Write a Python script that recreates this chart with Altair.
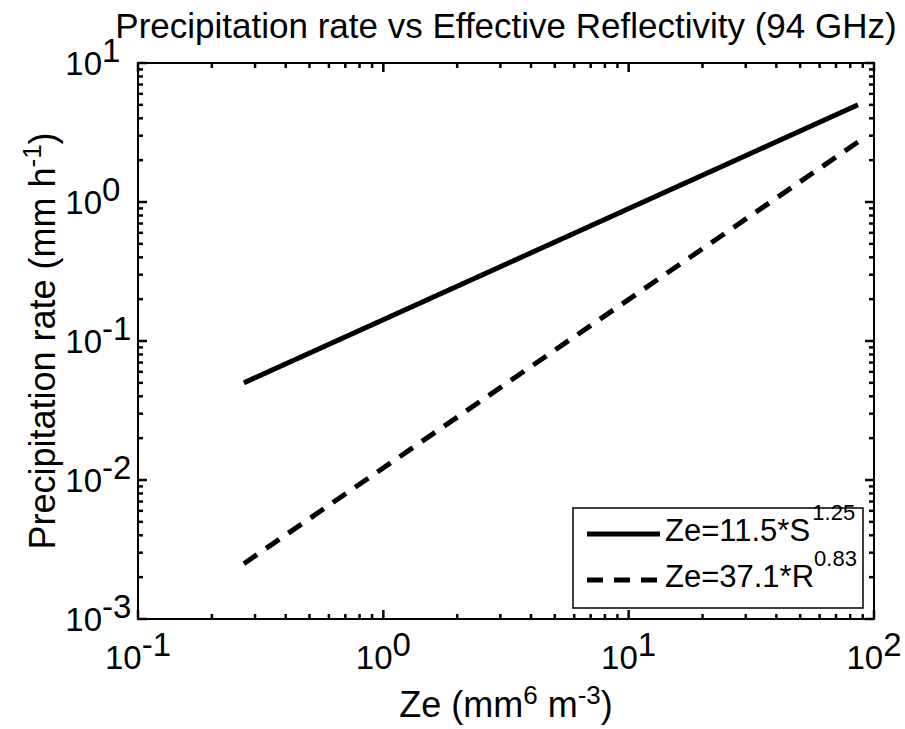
import altair as alt
import pandas as pd

# ---------------- data ----------------
ze_vals = [0.27, 86.0]                 # Ze (mm^6 m^-3) end points of both curves
snow_vals = [0.05, 5.0]                # S from Ze=11.5*S^1.25
rain_vals = [0.0025, 2.7]              # R from Ze=37.1*R^0.83
series_names = ["Ze=11.5*S^1.25", "Ze=37.1*R^0.83"]
legend_main = ["Ze=11.5*S", "Ze=37.1*R"]
legend_sup = ["1.25", "0.83"]

x_decades = [0.1, 1, 10, 100]
x_exps = ["-1", "0", "1", "2"]
y_decades = [0.001, 0.01, 0.1, 1, 10]
y_exps = ["-3", "-2", "-1", "0", "1"]
tick_base = "10"

title_text = "Precipitation rate vs Effective Reflectivity (94 GHz)"
xlabel_parts = ["Ze (mm", "6", " m", "-3", ")"]
ylabel_parts = ["Precipitation rate (mm h", "-1", ")"]

# ---------------- layout / style ----------------
FONT = "Liberation Sans"
W, H = 736, 556
PAD = {"left": 138, "top": 63, "right": 31, "bottom": 110}
TICK_FS = 33
LAB_FS = 36
LAB_SUP_FS = 26
TITLE_FS = 35
LEG_FS = 31
LEG_SUP_FS = 22

ARIAL = {' ': 278, '(': 333, ')': 333, '*': 389, '-': 333, '.': 278, '=': 584,
         'Z': 611, 'e': 556, 'm': 833, 'h': 556, 'S': 667, 'R': 722, 'P': 667,
         'r': 333, 'c': 500, 'i': 222, 'p': 556, 't': 278, 'a': 556, 'o': 556,
         'n': 556}
for d in "0123456789":
    ARIAL[d] = 556


def tw(s, fs):
    return sum(ARIAL.get(c, 556) for c in s) / 1000.0 * fs


xscale = alt.Scale(type="log", domain=[0.1, 100], nice=False)
yscale = alt.Scale(type="log", domain=[0.001, 10], nice=False)

# ---------------- curves (one layer per series, dash set on the mark) ----------------
DASHES = [[1, 0], [16, 11]]
curve_layers = []
for name, vals, dash in zip(series_names, [snow_vals, rain_vals], DASHES):
    df = pd.DataFrame({"ze": ze_vals, "val": vals, "series": [name] * len(ze_vals)})
    curve_layers.append(alt.Chart(df).mark_line(strokeWidth=5, strokeCap="butt", color="black", strokeDash=dash).encode(
        x=alt.X("ze:Q", scale=xscale, axis=None),
        y=alt.Y("val:Q", scale=yscale, axis=None),
    ))

# ---------------- inward ticks on all four sides ----------------
x_minor = [m * d for d in x_decades[:-1] for m in range(2, 10)]
y_minor = [m * d for d in y_decades[:-1] for m in range(2, 10)]
TICK_W = 2.5
MAJ, MIN = 9, 5


def xticks(vals, length):
    base = alt.Chart(pd.DataFrame({"tv": vals})).mark_rule(color="black", strokeWidth=TICK_W)
    bot = base.encode(x=alt.X("tv:Q", scale=xscale, axis=None), y=alt.value(H - length), y2=alt.value(H))
    top = base.encode(x=alt.X("tv:Q", scale=xscale, axis=None), y=alt.value(0), y2=alt.value(length))
    return [bot, top]


def yticks(vals, length):
    base = alt.Chart(pd.DataFrame({"tv": vals})).mark_rule(color="black", strokeWidth=TICK_W)
    left = base.encode(y=alt.Y("tv:Q", scale=yscale, axis=None), x=alt.value(0), x2=alt.value(length))
    right = base.encode(y=alt.Y("tv:Q", scale=yscale, axis=None), x=alt.value(W - length), x2=alt.value(W))
    return [left, right]


tick_layers = xticks(x_decades, MAJ) + xticks(x_minor, MIN) + yticks(y_decades, MAJ) + yticks(y_minor, MIN)

# ---------------- tick labels: "10" + same-size raised exponent ----------------
xt_df = pd.DataFrame({"v": x_decades, "e": x_exps, "b": [tick_base] * len(x_decades)})
yt_df = pd.DataFrame({"v": y_decades, "e": y_exps, "b": [tick_base] * len(y_decades)})

w10 = tw(tick_base, TICK_FS)
xlab_layers = []
for cond, sample in [("length(datum.e) == 1", "0"), ("length(datum.e) == 2", "-1")]:
    off = (w10 - tw(sample, TICK_FS)) / 2.0
    c = alt.Chart(xt_df).transform_filter(cond)
    xlab_layers.append(c.mark_text(align="right", baseline="alphabetic", dx=off, fontSize=TICK_FS, font=FONT, color="black").encode(
        x=alt.X("v:Q", scale=xscale, axis=None), y=alt.value(H + 50), text="b:N"))
    xlab_layers.append(c.mark_text(align="left", baseline="alphabetic", dx=off, fontSize=TICK_FS, font=FONT, color="black").encode(
        x=alt.X("v:Q", scale=xscale, axis=None), y=alt.value(H + 37), text="e:N"))

ylab_layers = [
    alt.Chart(yt_df).mark_text(align="right", baseline="alphabetic", dy=12, fontSize=TICK_FS, font=FONT, color="black").encode(
        y=alt.Y("v:Q", scale=yscale, axis=None), x=alt.value(-36), text="b:N"),
    alt.Chart(yt_df).mark_text(align="left", baseline="alphabetic", dy=-1, fontSize=TICK_FS, font=FONT, color="black").encode(
        y=alt.Y("v:Q", scale=yscale, axis=None), x=alt.value(-36), text="e:N"),
]

# ---------------- title ----------------
one = pd.DataFrame({"k": [0]})
title = alt.Chart(pd.DataFrame({"t": [title_text]})).mark_text(
    align="center", baseline="alphabetic", fontSize=TITLE_FS, font=FONT, color="black").encode(
    x=alt.value(W / 2), y=alt.value(-25), text="t:N")


def piece_layers(parts, sizes, raises, horizontal):
    """Lay out text pieces one after another (leading spaces become cursor advance)."""
    total = sum(tw(p, s) for p, s in zip(parts, sizes))
    layers = []
    cursor = W / 2 - total / 2 if horizontal else H / 2 + total / 2
    for p, s, r in zip(parts, sizes, raises):
        lead = len(p) - len(p.lstrip(" "))
        txt = p.strip(" ")
        adv = tw(" " * lead, s)
        if horizontal:
            layers.append(alt.Chart(pd.DataFrame({"t": [txt]})).mark_text(
                align="left", baseline="alphabetic", fontSize=s, font=FONT, color="black").encode(
                x=alt.value(cursor + adv), y=alt.value(H + 98 - r), text="t:N"))
            cursor += tw(p, s)
        else:
            layers.append(alt.Chart(pd.DataFrame({"t": [txt]})).mark_text(
                align="left", baseline="alphabetic", angle=270, fontSize=s, font=FONT, color="black").encode(
                x=alt.value(-83 - r), y=alt.value(cursor - adv), text="t:N"))
            cursor -= tw(p, s)
    return layers


xtitle_layers = piece_layers(xlabel_parts, [LAB_FS, LAB_SUP_FS, LAB_FS, LAB_SUP_FS, LAB_FS],
                             [0, 13, 0, 13, 0], True)
ytitle_layers = piece_layers(ylabel_parts, [LAB_FS, LAB_SUP_FS, LAB_FS], [0, 14, 0], False)

# ---------------- legend box ----------------
LX0, LX1, LY0, LY1 = 573 - 138, 863 - 138, 508 - 63, 608 - 63
ROW_Y = [534 - 63, 580 - 63]
legend_layers = [
    alt.Chart(one).mark_rect(fill="white", stroke="black", strokeWidth=1.5).encode(
        x=alt.value(LX0), x2=alt.value(LX1), y=alt.value(LY0), y2=alt.value(LY1))
]
for i in range(len(series_names)):
    legend_layers.append(alt.Chart(one).mark_rule(color="black", strokeWidth=5, strokeCap="butt", strokeDash=DASHES[i]).encode(
        x=alt.value(587 - 138), x2=alt.value(660 - 138), y=alt.value(ROW_Y[i])))
    tx = 665 - 138
    legend_layers.append(alt.Chart(pd.DataFrame({"t": [legend_main[i]]})).mark_text(
        align="left", baseline="alphabetic", fontSize=LEG_FS, font=FONT, color="black").encode(
        x=alt.value(tx), y=alt.value(ROW_Y[i] + 7), text="t:N"))
    legend_layers.append(alt.Chart(pd.DataFrame({"t": [legend_sup[i]]})).mark_text(
        align="left", baseline="alphabetic", fontSize=LEG_SUP_FS, font=FONT, color="black").encode(
        x=alt.value(tx + tw(legend_main[i], LEG_FS)), y=alt.value(ROW_Y[i] - 14), text="t:N"))

chart = alt.layer(
    *curve_layers, *tick_layers, *xlab_layers, *ylab_layers, title,
    *xtitle_layers, *ytitle_layers, *legend_layers
).properties(
    width=W, height=H, padding=PAD, autosize=alt.AutoSizeParams(type="none"), background="white"
).configure_view(stroke="black", strokeWidth=2)

chart.save("out.html", embed_options={"renderer": "svg", "actions": False})
